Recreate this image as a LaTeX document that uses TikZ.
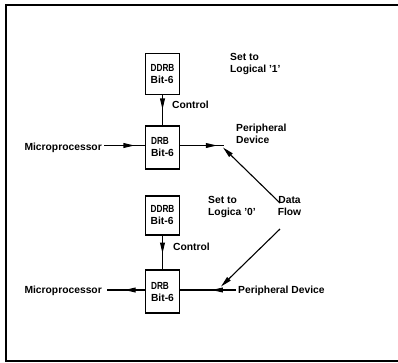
\documentclass[tikz,border=0pt]{standalone}
\usepackage{fontspec}
\setmainfont{Liberation Sans}
\usetikzlibrary{arrows.meta,decorations.markings}

% register names are set in narrower capitals
\newcommand\regname[1]{\scalebox{0.8}[1]{#1}}

\tikzset{
  every node/.style={font=\fontsize{10.3}{12}\selectfont\bfseries, inner sep=0pt},
  regbox/.style={draw, line width=1.2pt, minimum width=33.5pt, align=left},
  label/.style={align=left},
  wire/.style={line width=1.1pt},
  frameline/.style={line width=1.3pt},
  midarrow/.style={wire, postaction={decorate},
    decoration={markings, mark=at position #1 with {\arrow{Triangle[length=11pt,width=4.8pt]}}}},
  tiparrow/.style={wire, -{Triangle[length=11pt,width=4.8pt]}}
}

\begin{document}
\begin{tikzpicture}[x=1pt, y=-1pt]
\useasboundingbox (0,0) rectangle (398,362);

% open frame: left, top and bottom edges
\draw[frameline] (398,5) -- (6,5) -- (6,361) -- (398,361);

% ---- Output configuration (DDRB bit = 1)
\node[regbox, minimum height=41.5pt] (ddrbA) at (162.5,74) {\regname{DDRB}\\Bit-6};
\node[regbox, minimum height=43pt] (drbA) at (162.5,147.5) {\regname{DRB}\\Bit-6};
\node[anchor=base west] (ctlA) at (172,108) {Control};
\node[label, anchor=base west] (setA) at (230,72) {Set to\\Logical '1'};
\node[anchor=base east] (mpA) at (102,150) {Microprocessor};
\node[label, anchor=base west] (pdA) at (236,143) {Peripheral\\Device};
\coordinate (mpAend) at (104,145.5);
\coordinate (pdAend) at (224,145.5);

\draw[midarrow=0.47] (ddrbA.south) -- (drbA.north);
\draw[midarrow=0.74] (mpAend) -- (mpAend -| drbA.west);
\draw[midarrow=0.84] (pdAend -| drbA.east) -- (pdAend);

% ---- Input configuration (DDRB bit = 0)
\node[regbox, minimum height=39pt] (ddrbB) at (162.5,215.5) {\regname{DDRB}\\Bit-6};
\node[regbox, minimum height=43pt] (drbB) at (162.5,291.5) {\regname{DRB}\\Bit-6};
\node[anchor=base west] (ctlB) at (173,250) {Control};
\node[label, anchor=base west] (setB) at (208,215) {Set to\\Logica '0'};
\node[anchor=base east] (mpB) at (102,293.5) {Microprocessor};
\node[anchor=base west] (pdB) at (238,293.5) {Peripheral Device};
\coordinate (mpBend) at (107,290);
\coordinate (pdBend) at (236,290);

\draw[midarrow=0.53] (ddrbB.south) -- (drbB.north);
\draw[midarrow=0.54] (mpBend -| drbB.west) -- (mpBend);
\draw[midarrow=0.43] (pdBend) -- (pdBend -| drbB.east);

% ---- Data flow pointers
\node[label, align=center, anchor=base] (flow) at (289.5,215) {Data\\Flow};
\coordinate (flowTop) at (280,203);
\coordinate (flowBot) at (280,229);
\coordinate (tipA) at (223,147.5);
\coordinate (tipB) at (221,286.5);
\draw[tiparrow] (flowTop) -- (tipA);
\draw[tiparrow] (flowBot) -- (tipB);
\end{tikzpicture}
\end{document}
